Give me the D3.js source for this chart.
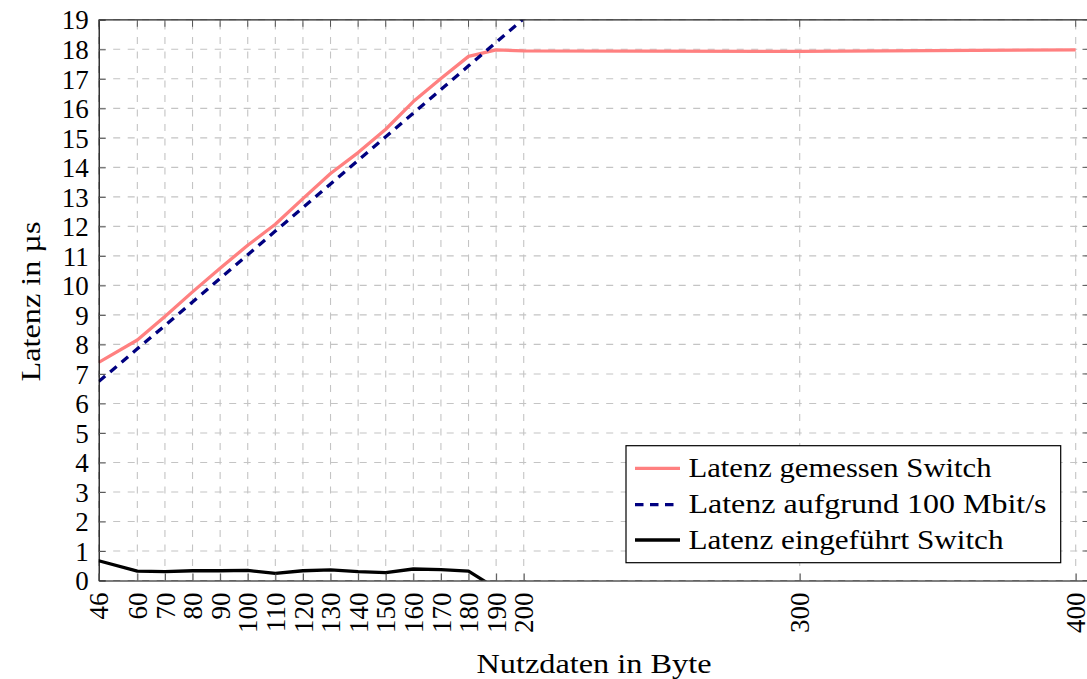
<!DOCTYPE html>
<html>
<head>
<meta charset="utf-8">
<script src="https://cdn.jsdelivr.net/npm/d3@7"></script>
<style>
  html, body { margin: 0; padding: 0; background: #fff; overflow: hidden; }
  svg { display: block; }
</style>
</head>
<body>
<svg id="chart" width="1087" height="679"></svg>
<script>
// ---- data ----
const xTicks = [46, 60, 70, 80, 90, 100, 110, 120, 130, 140, 150, 160, 170, 180, 190, 200, 300, 400];
const yTicks = [0,1,2,3,4,5,6,7,8,9,10,11,12,13,14,15,16,17,18,19];

const measuredX = [46, 60, 70, 80, 90, 100, 110, 120, 130, 140, 150, 160, 170, 180, 190, 200, 300, 400];
const measuredY = [7.39, 8.15, 8.95, 9.78, 10.58, 11.36, 12.07, 12.94, 13.79, 14.50, 15.29, 16.23, 17.01, 17.76, 17.98, 17.95, 17.93, 17.98];

const theoryX = [46, 60, 70, 80, 90, 100, 110, 120, 130, 140, 150, 160, 170, 180, 190, 200];
const theoryY = [6.74, 7.85, 8.64, 9.44, 10.24, 11.04, 11.84, 12.64, 13.44, 14.24, 15.04, 15.84, 16.64, 17.44, 18.24, 19.04];

const switchX = [46, 60, 70, 80, 90, 100, 110, 120, 130, 140, 150, 160, 170, 180, 190];
const switchY = [0.67, 0.32, 0.30, 0.33, 0.33, 0.34, 0.24, 0.33, 0.36, 0.30, 0.27, 0.39, 0.37, 0.32, -0.27];

const seriesNames = ["Latenz gemessen Switch", "Latenz aufgrund 100 Mbit/s", "Latenz eingeführt Switch"];
const xTitle = "Nutzdaten in Byte";
const yTitle = "Latenz in µs";

// ---- layout ----
const L = 98.7, R = 1089.5, T = 19.8, B = 580.5;
const FS = 27;
const FONT = "Liberation Serif";

const svg = d3.select("#chart").attr("font-family", FONT);
const x = d3.scaleLinear().domain([46, 405]).range([L, R]);
const y = d3.scaleLinear().domain([0, 19]).range([B, T]);

// clip
svg.append("defs").append("clipPath").attr("id", "plotclip")
  .append("rect").attr("x", L).attr("y", T).attr("width", R - L).attr("height", B - T);

// grid
const grid = svg.append("g");
grid.selectAll("line.gx").data(xTicks).join("line")
  .attr("x1", d => x(d)).attr("x2", d => x(d)).attr("y1", B).attr("y2", T)
  .attr("stroke", "#c4c4c4").attr("stroke-width", 1.1).attr("stroke-dasharray", "7,7.5");
grid.selectAll("line.gy").data(yTicks).join("line")
  .attr("y1", d => y(d)).attr("y2", d => y(d)).attr("x1", L).attr("x2", R)
  .attr("stroke", "#c4c4c4").attr("stroke-width", 1.1).attr("stroke-dasharray", "7,7.5");

// series
const series = [
  { name: seriesNames[0], xs: measuredX, ys: measuredY, color: "#ff8080", dash: null },
  { name: seriesNames[1], xs: theoryX, ys: theoryY, color: "#000080", dash: "8.5,6.5" },
  { name: seriesNames[2], xs: switchX, ys: switchY, color: "#000000", dash: null }
];
const line = d3.line().x(d => x(d[0])).y(d => y(d[1]));
const plot = svg.append("g").attr("clip-path", "url(#plotclip)");
series.forEach(s => {
  plot.append("path")
    .datum(s.xs.map((v, i) => [v, s.ys[i]]))
    .attr("d", line)
    .attr("fill", "none")
    .attr("stroke", s.color)
    .attr("stroke-width", 3.3)
    .attr("stroke-linejoin", "round")
    .attr("stroke-dasharray", s.dash);
});

// axes
const gy = svg.append("g").attr("transform", `translate(${L},0)`)
  .call(d3.axisLeft(y).tickValues(yTicks).tickFormat(d3.format("d")).tickSizeInner(-7).tickSizeOuter(0).tickPadding(10))
  .attr("font-family", FONT).attr("font-size", FS);
gy.select(".domain").attr("stroke", "#000").attr("stroke-width", 1.2);
gy.selectAll(".tick line").attr("stroke", "#555").attr("stroke-width", 1);
gy.selectAll(".tick text").attr("font-size", FS).attr("font-family", FONT).attr("fill", "#000")
  .attr("dy", "0.34em").attr("x", -10);

const gx = svg.append("g").attr("transform", `translate(0,${B})`)
  .call(d3.axisBottom(x).tickValues(xTicks).tickFormat(d3.format("d")).tickSizeInner(-7).tickSizeOuter(0).tickPadding(10))
  .attr("font-family", FONT).attr("font-size", FS);
gx.select(".domain").attr("stroke", "#000").attr("stroke-width", 1.2);
gx.selectAll(".tick line").attr("stroke", "#555").attr("stroke-width", 1);
gx.selectAll(".tick text")
  .attr("font-size", FS).attr("font-family", FONT).attr("fill", "#000")
  .attr("transform", "rotate(-90)")
  .attr("text-anchor", "end")
  .attr("x", -12).attr("y", 0).attr("dy", "0.34em");

// top frame + ticks
svg.append("line").attr("x1", L).attr("x2", R).attr("y1", T).attr("y2", T).attr("stroke", "#222").attr("stroke-width", 1.2);
svg.append("line").attr("x1", R).attr("x2", R).attr("y1", T).attr("y2", B).attr("stroke", "#222").attr("stroke-width", 1.2);
svg.append("g").selectAll("line").data(xTicks).join("line")
  .attr("x1", d => x(d)).attr("x2", d => x(d)).attr("y1", T).attr("y2", T + 7)
  .attr("stroke", "#555").attr("stroke-width", 1);
svg.append("g").selectAll("line").data(yTicks).join("line")
  .attr("x1", R).attr("x2", R - 7).attr("y1", d => y(d)).attr("y2", d => y(d))
  .attr("stroke", "#555").attr("stroke-width", 1);

// axis titles
svg.append("text").attr("x", 594).attr("y", 673).attr("text-anchor", "middle")
  .attr("font-family", FONT).attr("font-size", 28).attr("fill", "#000")
  .attr("textLength", 235).attr("lengthAdjust", "spacingAndGlyphs").text(xTitle);
svg.append("text").attr("transform", "translate(40,301.5) rotate(-90)").attr("text-anchor", "middle")
  .attr("font-family", FONT).attr("font-size", 28).attr("fill", "#000")
  .attr("textLength", 160).attr("lengthAdjust", "spacingAndGlyphs").text(yTitle);

// legend
const lg = svg.append("g");
lg.append("rect").attr("x", 626).attr("y", 445.7).attr("width", 434.7).attr("height", 117)
  .attr("fill", "#fff").attr("stroke", "#000").attr("stroke-width", 1.2);
const legendY = [468.3, 504.6, 540];
const legendLen = [303, 358, 315];
series.forEach((s, i) => {
  lg.append("line").attr("x1", 635).attr("x2", 680).attr("y1", legendY[i]).attr("y2", legendY[i])
    .attr("stroke", s.color).attr("stroke-width", 3.3).attr("stroke-dasharray", s.dash);
  lg.append("text").attr("x", 688.5).attr("y", legendY[i] + 8.8)
    .attr("font-family", FONT).attr("font-size", 28).attr("fill", "#000")
    .attr("textLength", legendLen[i]).attr("lengthAdjust", "spacingAndGlyphs").text(s.name);
});
</script>
</body>
</html>
